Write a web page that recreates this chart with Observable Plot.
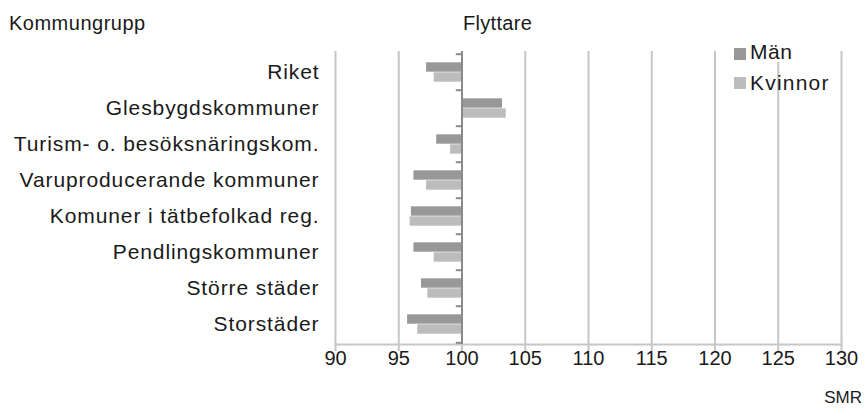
<!DOCTYPE html>
<html>
<head>
<meta charset="utf-8">
<script src="https://cdn.jsdelivr.net/npm/d3@7"></script>
<script src="https://cdn.jsdelivr.net/npm/@observablehq/plot@0.6"></script>
<style>
  html, body { margin: 0; padding: 0; background: #fff; }
  #wrap { position: relative; width: 864px; height: 409px; font-family: "Liberation Sans", Arial, sans-serif; color: #1a1a1a; }
  .lbl { position: absolute; white-space: nowrap; line-height: 1; }
  .sw { position: absolute; width: 12px; height: 12px; }
  #wrap g[aria-label="y-axis tick label"] text { letter-spacing: 0.9px; }
</style>
</head>
<body>
<div id="wrap"></div>
<script>
const categories = ["Riket", "Glesbygdskommuner", "Turism- o. besöksnäringskom.", "Varuproducerande kommuner", "Komuner i tätbefolkad reg.", "Pendlingskommuner", "Större städer", "Storstäder"];
const man     = [97.2, 103.2, 98.0, 96.2, 96.0, 96.2, 96.8, 95.7];
const kvinnor = [97.8, 103.5, 99.1, 97.2, 95.9, 97.8, 97.3, 96.5];
const series = ["Män", "Kvinnor"];
const colors = ["#989898", "#bcbcbc"];
const xTicks = [90, 95, 100, 105, 110, 115, 120, 125, 130];
const baseline = 100;
const titleLeft = "Kommungrupp";
const titleCenter = "Flyttare";
const xLabel = "SMR";

const W = 864, H = 409, mL = 335, mR = 23, mT = 51, mB = 65;
const band = (H - mT - mB) / categories.length;

const rows = categories.map((c, i) => ({cat: c, man: man[i], kvinnor: kvinnor[i]}));

const chart = Plot.plot({
  width: W, height: H,
  marginLeft: mL, marginRight: mR, marginTop: mT, marginBottom: mB,
  style: {fontFamily: "Liberation Sans, Arial, sans-serif", fontSize: "20px", color: "#1a1a1a", background: "#fff"},
  x: {domain: [90, 130]},
  y: {domain: categories, padding: 0},
  marks: [
    Plot.ruleX(xTicks, {stroke: "#c6c6c6", strokeWidth: 2, insetBottom: -7}),
    Plot.frame({anchor: "bottom", stroke: "#c6c6c6", strokeWidth: 2}),
    Plot.barX(rows, {y: "cat", x1: baseline, x2: "man", fill: colors[0], insetTop: band / 2 - 10, insetBottom: band / 2}),
    Plot.barX(rows, {y: "cat", x1: baseline, x2: "kvinnor", fill: colors[1], insetTop: band / 2, insetBottom: band / 2 - 10}),
    Plot.ruleX([baseline], {stroke: "#8a8a8a", strokeWidth: 2}),
    Plot.ruleY(categories, {y: d => d, x1: baseline - 0.45, x2: baseline, dy: -band / 2, stroke: "#8a8a8a", strokeWidth: 2}),
    Plot.ruleY([categories[categories.length - 1]], {y: d => d, x1: baseline - 0.45, x2: baseline, dy: band / 2, stroke: "#8a8a8a", strokeWidth: 2}),
    Plot.axisX({ticks: xTicks, tickSize: 0, tickPadding: 6, label: null, fontSize: 20}),
    Plot.axisY({tickSize: 0, tickPadding: 16, label: null, fontSize: 21})
  ]
});

const wrap = document.getElementById("wrap");
wrap.appendChild(chart);

function addEl(cls, html, css) {
  const d = document.createElement("div");
  d.className = cls;
  d.innerHTML = html;
  Object.assign(d.style, css);
  wrap.appendChild(d);
}
addEl("lbl", titleLeft, {left: "9px", top: "12.5px", fontSize: "20px", letterSpacing: "0.5px"});
addEl("lbl", titleCenter, {left: "463px", top: "12.5px", fontSize: "20px", letterSpacing: "0.3px"});
addEl("lbl", xLabel, {right: "2px", top: "389px", fontSize: "17px"});
addEl("sw", "", {left: "734px", top: "48px", background: colors[0]});
addEl("sw", "", {left: "734px", top: "77px", background: colors[1]});
addEl("lbl", series[0], {left: "750px", top: "40.5px", fontSize: "21px", letterSpacing: "0.5px", background: "#fff"});
addEl("lbl", series[1], {left: "750px", top: "72px", fontSize: "21px", letterSpacing: "1.2px"});
</script>
</body>
</html>
